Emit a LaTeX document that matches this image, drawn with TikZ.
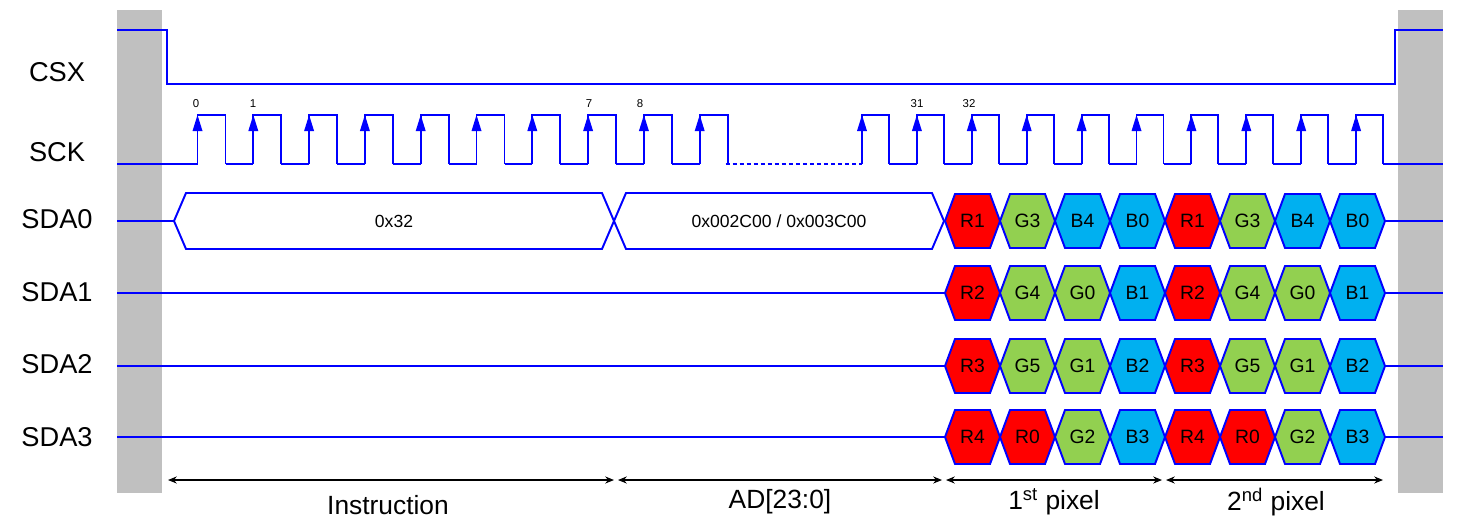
\documentclass[tikz,border=0pt]{standalone}
\usepackage{fontspec}
\setmainfont{Liberation Sans}
\usetikzlibrary{arrows.meta}
\definecolor{sigblue}{HTML}{0000FF}
\definecolor{hr}{HTML}{FF0000}
\definecolor{hg}{HTML}{92D050}
\definecolor{hb}{HTML}{00B0F0}
\definecolor{barg}{HTML}{C0C0C0}
\tikzset{sig/.style={draw=sigblue,line width=1.1pt,line join=miter},
 lbl/.style={font=\fontsize{15.5}{16}\selectfont,anchor=center},
 hx/.style={font=\fontsize{11}{11}\selectfont},
 dat/.style={font=\fontsize{10}{10}\selectfont},
 num/.style={font=\fontsize{6.5}{7}\selectfont},
 dim/.style={draw=black,line width=0.6pt,{Stealth[length=5pt,width=4pt]}-{Stealth[length=5pt,width=4pt]}},
 blbl/.style={font=\fontsize{15}{15}\selectfont}}
\newcommand{\hexs}[6]{% x1 x2 yc fill text slant
 \draw[sig,fill=#4] (#1,#3) -- (#1+#6,#3-27) -- (#2-#6,#3-27) -- (#2,#3) -- (#2-#6,#3+27) -- (#1+#6,#3+27) -- cycle;
 \node[hx] at ({(#1+#2)/2},#3) {#5};}
\begin{document}
\begin{tikzpicture}[x=0.02cm,y=-0.02cm]
\useasboundingbox (0,0) rectangle (1470,531);
\fill[barg] (117,10) rectangle (162,493);
\fill[barg] (1398,10) rectangle (1443,493);
% labels
\node[lbl] (lcsx) at (57,72) {CSX};
\node[lbl] (lsck) at (57,152) {SCK};
\node[lbl] (ls0) at (57,219) {SDA0};
\node[lbl] (ls1) at (57,292) {SDA1};
\node[lbl] (ls2) at (57,364) {SDA2};
\node[lbl] (ls3) at (57,437) {SDA3};
% CSX
\draw[sig] (117,30) -- (167,30) -- (167,84) -- (1395,84) -- (1395,30) -- (1443,30);
% SCK
\draw[sig] (117,164) -- (197.5,164);
\foreach \k in {0,...,9}{
  \pgfmathsetmacro\xr{197.5+55.8*\k}
  \draw[sig] (\xr,164) -- (\xr,115) -- (\xr+28,115) -- (\xr+28,164);
  \ifnum\k<9 \draw[sig] (\xr+28,164) -- (\xr+55.8,164); \fi
  \fill[sigblue] (\xr,115) -- (\xr-5,131) -- (\xr+5,131) -- cycle;
}
\draw[sig,dash pattern=on 2.5pt off 1.5pt] (725.5,164) -- (862,164);
\foreach \k in {0,...,9}{
  \pgfmathsetmacro\xr{862+54.9*\k}
  \draw[sig] (\xr,164) -- (\xr,115) -- (\xr+27,115) -- (\xr+27,164);
  \ifnum\k<9 \draw[sig] (\xr+27,164) -- (\xr+54.9,164); \fi
  \fill[sigblue] (\xr,115) -- (\xr-5,131) -- (\xr+5,131) -- cycle;
}
\draw[sig] (1356+27,164) -- (1443,164);
\node[num] at (196,104) {0};
\node[num] at (253,104) {1};
\node[num] at (589,104) {7};
\node[num] at (640,104) {8};
\node[num] at (917,104) {31};
\node[num] at (969,104) {32};
% SDA0 big
\draw[sig] (117,221) -- (174,221);
\draw[sig,fill=white] (174,221) -- (186,193) -- (602,193) -- (614,221) -- (602,249) -- (186,249) -- cycle;
\draw[sig,fill=white] (614,221) -- (626,193) -- (932,193) -- (944,221) -- (932,249) -- (626,249) -- cycle;
\node[dat] (v0) at (394,221) {0x32};
\node[dat] (v1) at (779,221) {0x002C00 / 0x003C00};
% other lines
\foreach \y in {293,366,437}{\draw[sig] (117,\y) -- (945,\y);}
\foreach \y in {221,293,366,437}{\draw[sig] (1385,\y) -- (1443,\y);}
% pixel hexes
\foreach \yc/\lst in {221/{hr/R1,hg/G3,hb/B4,hb/B0},293/{hr/R2,hg/G4,hg/G0,hb/B1},366/{hr/R3,hg/G5,hg/G1,hb/B2},437/{hr/R4,hr/R0,hg/G2,hb/B3}}{
  \foreach \p in {0,1}{
    \foreach \c/\t [count=\i from 0] in \lst {
      \pgfmathsetmacro\xa{945+220*\p+55*\i}
      \pgfmathsetmacro\xb{\xa+55}
      \hexs{\xa}{\xb}{\yc}{\c}{\t}{10}
    }
  }
}
% dimension arrows
\coordinate (d0) at (168,480); \coordinate (d1) at (614,480);
\coordinate (d2) at (618,480); \coordinate (d3) at (942,480);
\coordinate (d4) at (946,480); \coordinate (d5) at (1162,480);
\coordinate (d6) at (1166,480); \coordinate (d7) at (1383,480);
\draw[dim] (d0) -- (d1);
\draw[dim] (d2) -- (d3);
\draw[dim] (d4) -- (d5);
\draw[dim] (d6) -- (d7);
\node[blbl] (i1) at (388,505) {Instruction};
\node[blbl] (i2) at (780,502) {AD[23:0]};
\node[blbl] (i3) at (1054,502) {1\textsuperscript{st} pixel};
\node[blbl] (i4) at (1276,502) {2\textsuperscript{nd} pixel};
\end{tikzpicture}
\end{document}
